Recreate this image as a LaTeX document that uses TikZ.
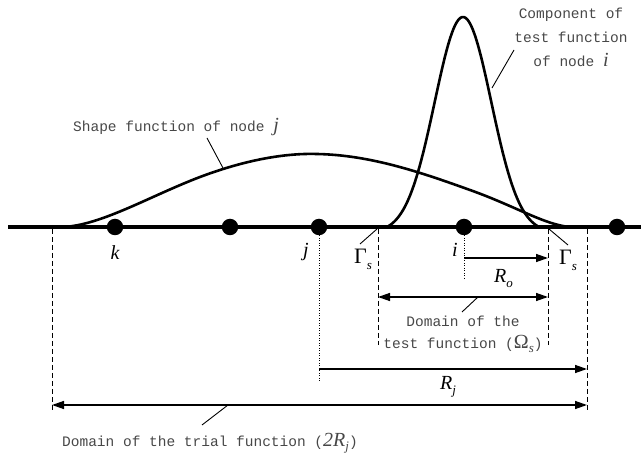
\documentclass[tikz,border=0pt]{standalone}
\usepackage{fontspec}
\setmainfont{Liberation Serif}
\setmonofont{Liberation Mono}
\usetikzlibrary{arrows.meta}
\newcommand{\lsub}[1]{\raisebox{-0.5ex}{\fontsize{13}{13}\selectfont\rmfamily\itshape #1}}
\newcommand{\mvar}[1]{{\fontsize{20}{20}\selectfont\rmfamily\itshape #1}}
\begin{document}
\begin{tikzpicture}[x=1pt,y=-1pt,
  dot/.style={circle,fill=black,inner sep=0pt,minimum size=16.5pt},
  axisline/.style={line width=3.6pt},
  curve/.style={line width=2.6pt, line join=round, line cap=round},
  leader/.style={line width=0.9pt},
  guide/.style={line width=1pt, dash pattern=on 5pt off 3pt},
  dotguide/.style={line width=1pt, dash pattern=on 1pt off 1.5pt},
  dim/.style={line width=1.4pt, -{Triangle[length=12pt,width=8pt]}},
  dimboth/.style={line width=1.4pt, {Triangle[length=12pt,width=8pt]}-{Triangle[length=12pt,width=8pt]}},
  mono/.style={font=\fontsize{14.5}{22}\selectfont\ttfamily, text=black!72, inner sep=0pt},
  sym/.style={font=\fontsize{20}{20}\selectfont\rmfamily\itshape, inner sep=0pt},
  greek/.style={font=\fontsize{22}{22}\selectfont\rmfamily, inner sep=0pt},
]
\useasboundingbox (0,0) rectangle (641,457);

% axis
\coordinate (axL) at (8,227);
\coordinate (axR) at (641,227);
\draw[axisline] (axL) -- (axR);

% shape function of node j
\draw[curve] (62,227) .. controls (100,226) and (150,196) .. (200,177)
  .. controls (245,160) and (285,153) .. (317,154)
  .. controls (370,155) and (420,172) .. (470,190)
  .. controls (515,206) and (545,225) .. (570,227);

% test function of node i
\draw[curve] plot[domain=387:539, samples=90] (\x, {227-210*(exp(-(\x-463)^2/1600)-0.0271)/0.9729});

% nodes
\node[dot] (k) at (115,227) {};
\node[dot] (n2) at (230,227) {};
\node[dot] (j) at (319,227) {};
\node[dot] (i) at (464,227) {};
\node[dot] (n5) at (617,227) {};

% node labels
\node[sym, anchor=base] (lk) at (115,260) {k};
\node[sym, anchor=base] (lj) at (306,257) {j};
\node[sym, anchor=base] (li) at (455,257) {i};

% guide lines
\coordinate (tLt) at (52,229);   \coordinate (tLb) at (52,412);
\coordinate (tRt) at (587,229);  \coordinate (tRb) at (587,410);
\coordinate (gLt) at (378,229);  \coordinate (gLb) at (378,345);
\coordinate (gRt) at (548,229);  \coordinate (gRb) at (548,345);
\coordinate (jb) at (319,381);
\coordinate (ib) at (464,279);
\draw[guide] (tLt) -- (tLb);
\draw[guide] (tRt) -- (tRb);
\draw[guide] (gLt) -- (gLb);
\draw[guide] (gRt) -- (gRb);
\draw[dotguide] (j.south) -- (jb);
\draw[dotguide] (i.south) -- (ib);

% dimension arrows
\coordinate (ro1) at (464,258); \coordinate (ro2) at (548,258);
\coordinate (td1) at (378,297); \coordinate (td2) at (548,297);
\coordinate (rj1) at (319,369); \coordinate (rj2) at (587,369);
\coordinate (tr1) at (52,405);  \coordinate (tr2) at (587,405);
\draw[dim] (ro1) -- (ro2);
\draw[dimboth] (td1) -- (td2);
\draw[dim] (rj1) -- (rj2);
\draw[dimboth] (tr1) -- (tr2);

% boundary labels
\node[greek, anchor=base west] (gl) at (354,264) {Γ\lsub{s}};
\node[greek, anchor=base west] (gr) at (559,265) {Γ\lsub{s}};
\node[sym, anchor=base west] (ro) at (494,283) {R\lsub{o}};
\node[sym, anchor=base west] (rj) at (440,390) {R\lsub{j}};

% text labels
\node[mono] (shapelbl) at (176,127) {Shape function of node \mvar{j}};
\node[mono, align=center, font=\fontsize{14.5}{24}\selectfont\ttfamily] (complbl) at (571,37) {Component of\\test function\\of node \mvar{i}};
\node[mono, align=center] (testlbl) at (463,334) {Domain of the\\test function ({\fontsize{20}{20}\selectfont\rmfamily Ω}\lsub{s})};
\node[mono, anchor=base west] (triallbl) at (62,447) {Domain of the trial function (\mvar{2R}\lsub{j})};

% leaders
\coordinate (shA) at (207,138); \coordinate (shB) at (223,168);
\coordinate (cpA) at (514,50);  \coordinate (cpB) at (492,88);
\coordinate (glA) at (377,229); \coordinate (glB) at (360,244);
\coordinate (grA) at (549,229); \coordinate (grB) at (568,245);
\coordinate (tdA) at (478,297); \coordinate (tdB) at (462,312);
\coordinate (trA) at (228,405); \coordinate (trB) at (202,425);
\draw[leader] (shA) -- (shB);
\draw[leader] (cpA) -- (cpB);
\draw[leader] (glA) -- (glB);
\draw[leader] (grA) -- (grB);
\draw[leader] (tdA) -- (tdB);
\draw[leader] (trA) -- (trB);
\end{tikzpicture}
\end{document}
